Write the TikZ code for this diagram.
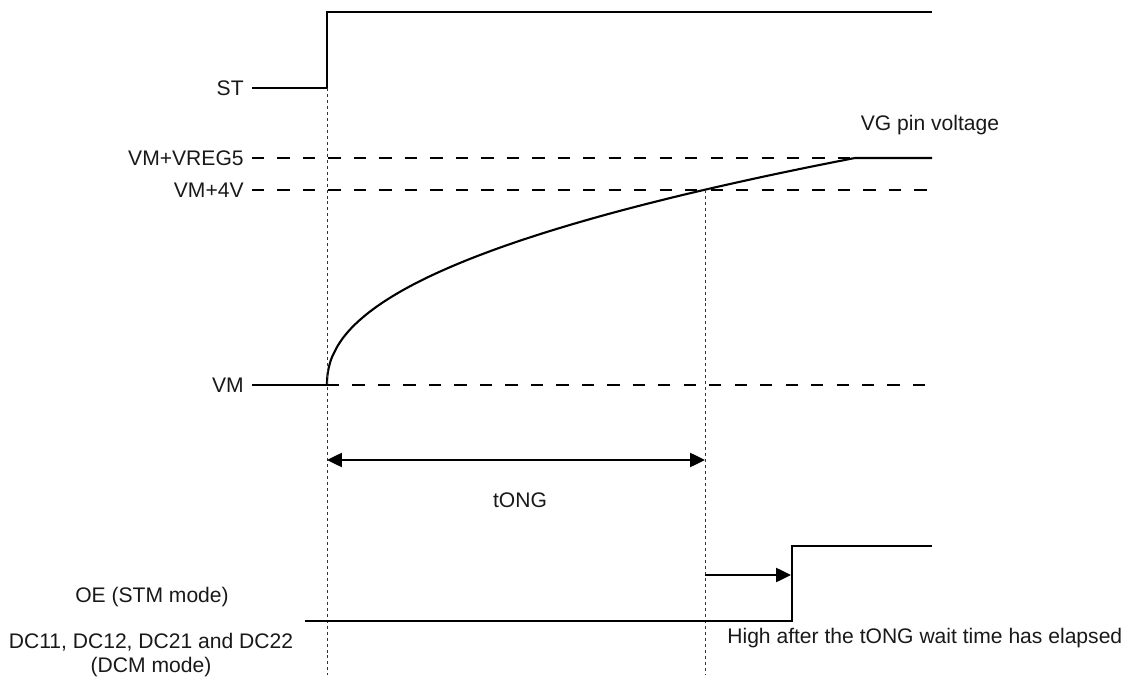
\documentclass[tikz,border=0pt]{standalone}
\usepackage{fontspec}
\setmainfont{Liberation Sans}
\usetikzlibrary{arrows.meta}

\tikzset{
  sig/.style={line width=1.2pt,line cap=butt},
  lvl/.style={line width=1.2pt,dash pattern=on 7pt off 7.5pt},
  guide/.style={line width=0.5pt,black!80,dash pattern=on 1.7pt off 1.7pt},
  lbl/.style={font=\fontsize{12}{14}\selectfont,inner sep=0pt,text=black!90},
  tip/.style={-{Triangle[length=8.5pt,width=8pt]}}
}

\begin{document}
\begin{tikzpicture}[x=0.02cm,y=-0.02cm,>=latex]
 \useasboundingbox (0,0) rectangle (1130,682);

 % level labels on the left
 \node[lbl,anchor=east] (st)    at (244,88)  {ST};
 \node[lbl,anchor=east] (vreg)  at (244,158) {VM+VREG5};
 \node[lbl,anchor=east] (vfour) at (244,190) {VM+4V};
 \node[lbl,anchor=east] (vm)    at (244,385) {VM};
 \node[lbl] (oe) at (152,597) {OE (STM mode)};
 \node[lbl,align=center] (dc) at (151,655) {DC11, DC12, DC21 and DC22\\(DCM mode)};

 % points of the waveforms
 \coordinate (st0) at (252,88);
 \coordinate (st1) at (327,88);
 \coordinate (st2) at (327,12);
 \coordinate (st3) at (932,12);
 \coordinate (vreg0) at (252,158);
 \coordinate (vreg1) at (932,158);
 \coordinate (vfour0) at (252,190);
 \coordinate (vfour1) at (932,190);
 \coordinate (vm0) at (252,385);
 \coordinate (vm1) at (327,385);
 \coordinate (vm2) at (932,385);
 \coordinate (top) at (855,158);
 \coordinate (cross) at (705,190);
 \coordinate (endA) at (327,675);
 \coordinate (endB) at (705,675);
 \coordinate (oe0) at (305,621);
 \coordinate (oe1) at (792,621);
 \coordinate (oe2) at (792,546);
 \coordinate (oe3) at (932,546);
 \coordinate (tA) at (327,460);
 \coordinate (tB) at (705,460);
 \coordinate (wA) at (705,575);
 \coordinate (wB) at (791,575);

 % ST signal
 \draw[sig] (st0) -- (st1) -- (st2) -- (st3);

 % dashed levels
 \draw[lvl] (vreg0) -- (top);
 \draw[lvl] (vfour0) -- (vfour1);
 \draw[lvl] (vm1) -- (vm2);

 % VG pin voltage
 \draw[sig] (vm0) -- (vm1);
 \draw[sig] plot[smooth,domain=0.001:1,samples=50] ({327+528*(\x)^2.222},{385-227*\x}) -- (vreg1);
 \node[lbl] (vg) at (930,125) {VG pin voltage};

 % dotted guides
 \draw[guide] (st1) -- (endA);
 \draw[guide] (cross) -- (endB);

 % wait time
 \draw[sig,{Triangle[length=8.5pt,width=8pt]}-{Triangle[length=8.5pt,width=8pt]}] (tA) -- (tB);
 \node[lbl] (tong) at (520,500) {tONG};

 % OE signal
 \draw[sig] (oe0) -- (oe1) -- (oe2) -- (oe3);
 \draw[sig,tip] (wA) -- (wB);
 \node[lbl,anchor=west] (high) at (727,638) {High after the tONG wait time has elapsed};
\end{tikzpicture}
\end{document}
